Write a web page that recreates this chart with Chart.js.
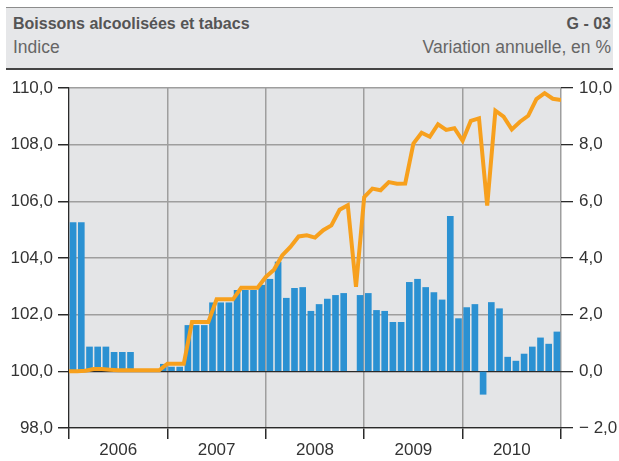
<!DOCTYPE html>
<html>
<head>
<meta charset="utf-8">
<script src="https://cdn.jsdelivr.net/npm/chart.js@4"></script>
<style>
html,body{margin:0;padding:0;background:#fff;}
#wrap{position:relative;width:619px;height:461px;overflow:hidden;}
#c{position:absolute;left:0;top:0;}
#hdr{position:absolute;left:6px;top:7px;width:607px;height:60px;background:#e6e7e9;border-top:1px solid #8c8c8c;border-bottom:2px solid #444;font-family:"Liberation Sans",Arial,sans-serif;}
#hdr span{position:absolute;white-space:nowrap;line-height:20px;}
.t{font-weight:bold;color:#555;top:6px;font-size:16px;}
.s{color:#666;top:29px;font-size:17.5px;}
.l{left:7px;}
.r{right:2px;}
</style>
</head>
<body>
<div id="wrap">
<canvas id="c" width="619" height="461"></canvas>
<div id="hdr">
<span class="t l">Boissons alcoolisées et tabacs</span><span class="t r">G - 03</span>
<span class="s l">Indice</span><span class="s r">Variation annuelle, en %</span>
</div>
</div>
<script>
// Year categories (each year = 12 months)
const years = ['2006', '2007', '2008', '2009', '2010'];

// Annual change in % (bars, right axis), one per month Jan 2006 .. Dec 2010
const annualChange = [
  5.25, 5.25, 0.86, 0.86, 0.86, 0.67, 0.67, 0.67, 0, 0, 0, 0.25,
  0.15, 0.15, 1.62, 1.62, 1.62, 2.42, 2.42, 2.42, 2.86, 2.86, 2.86, 3.04,
  3.25, 3.86, 2.58, 2.93, 2.96, 2.12, 2.36, 2.55, 2.68, 2.75, null, 2.68,
  2.75, 2.15, 2.12, 1.73, 1.73, 3.14, 3.25, 2.96, 2.78, 2.52, 5.47, 1.86,
  2.25, 2.36, -0.81, 2.43, 2.21, 0.50, 0.36, 0.61, 0.86, 1.18, 0.96, 1.39
];

// Price index (line, left axis), at month boundaries (61 points)
const priceIndex = [
  100.00,
  100.00, 100.02, 100.08, 100.08, 100.06, 100.04, 100.04, 100.04, 100.04, 100.04, 100.04, 100.27,
  100.27, 100.27, 101.74, 101.74, 101.74, 102.54, 102.54, 102.54, 102.95, 102.95, 102.95, 103.33,
  103.59, 104.09, 104.39, 104.76, 104.80, 104.72, 104.98, 105.15, 105.70, 105.86, 102.98, 106.15,
  106.45, 106.39, 106.68, 106.62, 106.63, 108.04, 108.42, 108.28, 108.72, 108.52, 108.58, 108.14,
  108.84, 108.93, 105.85, 109.20, 108.99, 108.54, 108.81, 109.02, 109.61, 109.82, 109.62, 109.58
];

const leftTicks = [98, 100, 102, 104, 106, 108, 110];
const rightTicks = [-2, 0, 2, 4, 6, 8, 10];
const xTickPos = [0, 6, 12, 18, 24, 30, 36, 42, 48, 54, 60];

const fmt = v => Math.abs(v).toFixed(1).replace('.', ',');
const FONT = {family: '"Liberation Sans", Arial, sans-serif', size: 17};
const GRID = '#9e9e9e';
const DARK = '#2a2a2a';

const bgPlugin = {
  id: 'bg',
  beforeDraw(chart) {
    const {ctx, chartArea: a} = chart;
    ctx.save();
    ctx.fillStyle = '#e4e5e7';
    ctx.fillRect(a.left, a.top, a.right - a.left, a.bottom - a.top);
    ctx.restore();
  }
};

new Chart(document.getElementById('c'), {
  data: {
    datasets: [
      {
        type: 'line',
        data: priceIndex.map((v, k) => ({x: k, y: v})),
        yAxisID: 'y',
        borderColor: '#f7a01d',
        borderWidth: 4,
        pointRadius: 0,
        tension: 0,
        order: 0
      },
      {
        type: 'bar',
        data: annualChange.map((v, i) => ({x: i + 0.5, y: v})),
        yAxisID: 'y2',
        backgroundColor: '#2b91d2',
        barThickness: 6,
        order: 1
      }
    ]
  },
  options: {
    responsive: false,
    animation: false,
    events: [],
    layout: {padding: {top: 88, left: 0, right: 0, bottom: 0}},
    plugins: {legend: {display: false}, tooltip: {enabled: false}},
    scales: {
      x: {
        type: 'linear', min: 0, max: 60, offset: false,
        afterBuildTicks: s => { s.ticks = xTickPos.map(v => ({value: v})); },
        afterFit: s => { s.height = 33; },
        ticks: {
          autoSkip: false, maxRotation: 0, padding: 1, color: '#333', font: FONT,
          callback: v => (v % 12 === 6 ? years[(v - 6) / 12] : '')
        },
        grid: {
          offset: false,
          color: c => (c.tick && c.tick.value % 12 === 0 && c.tick.value > 0) ? GRID : 'rgba(0,0,0,0)',
          tickColor: c => (c.tick && c.tick.value % 12 === 0) ? DARK : 'rgba(0,0,0,0)',
          tickLength: 11,
          lineWidth: 1.5
        },
        border: {color: DARK, width: 1.3}
      },
      y: {
        position: 'left', min: 98, max: 110,
        afterBuildTicks: s => { s.ticks = leftTicks.map(v => ({value: v})); },
        afterFit: s => { s.width = 69; },
        ticks: {padding: 5, color: '#333', font: FONT, callback: v => fmt(v)},
        grid: {
          color: c => (c.tick && c.tick.value === 100) ? DARK : GRID,
          lineWidth: c => (c.tick && c.tick.value === 100) ? 1.3 : 1.5,
          tickColor: DARK,
          tickLength: 11
        },
        border: {color: DARK, width: 1.3}
      },
      y2: {
        position: 'right', min: -2, max: 10,
        afterBuildTicks: s => { s.ticks = rightTicks.map(v => ({value: v})); },
        afterFit: s => { s.width = 58; },
        ticks: {padding: 6, color: '#333', font: FONT, callback: v => (v < 0 ? '\u2212 ' : '') + fmt(v)},
        grid: {drawOnChartArea: false, tickColor: DARK, tickLength: 12, lineWidth: 1.3},
        border: {display: false}
      }
    }
  },
  plugins: [bgPlugin]
});
</script>
</body>
</html>
